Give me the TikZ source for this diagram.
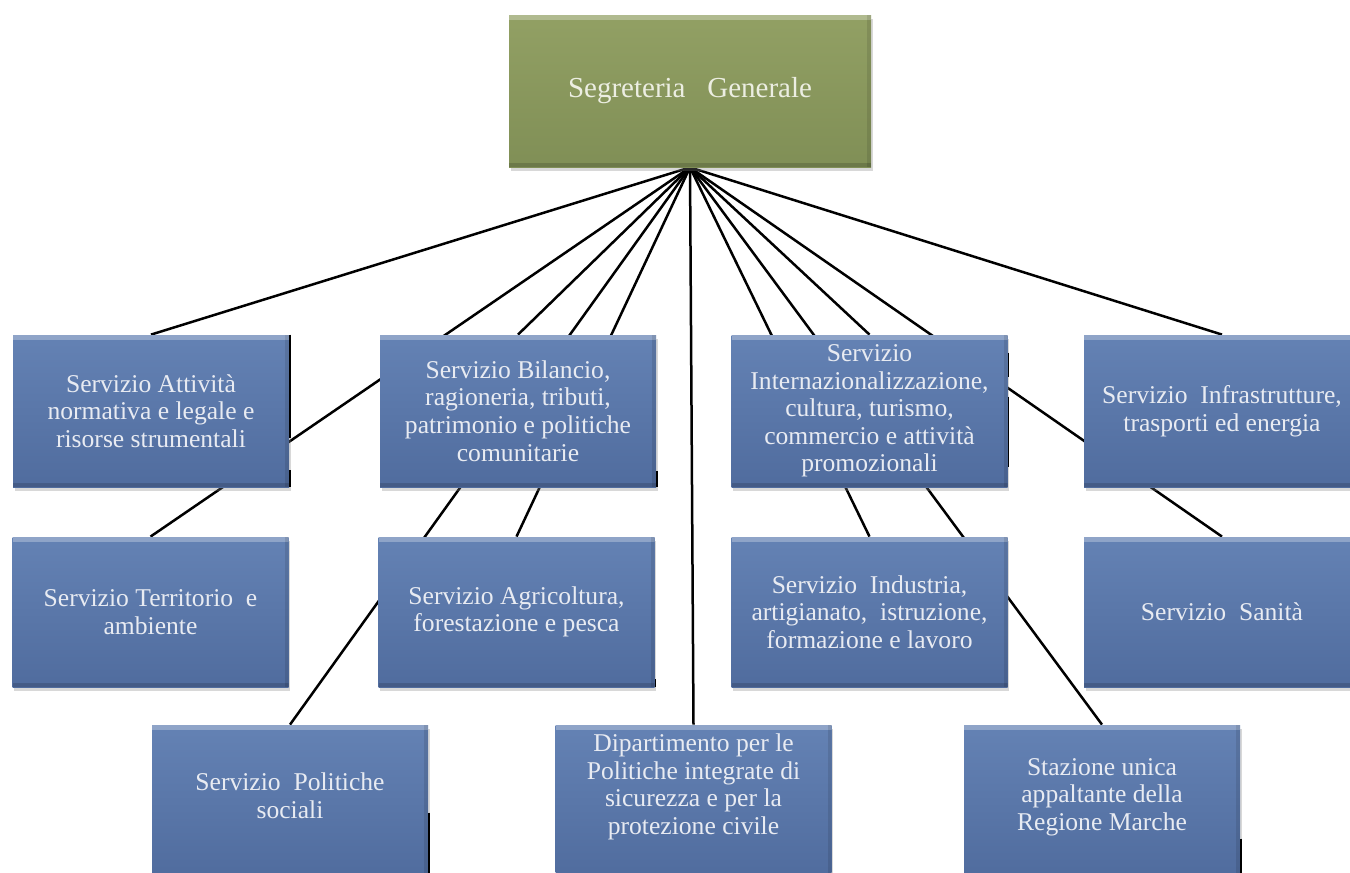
\documentclass[tikz,border=0pt]{standalone}
\usepackage{fontspec}
\setmainfont{Liberation Serif}
\usetikzlibrary{shadows,backgrounds}

\definecolor{bluetop}{RGB}{100,130,180}
\definecolor{bluebot}{RGB}{80,108,158}
\definecolor{olivetop}{RGB}{146,160,100}
\definecolor{olivebot}{RGB}{128,143,86}
\definecolor{labeltext}{RGB}{232,235,242}

\tikzset{
  bevel/.style={path picture={
      \fill[white,opacity=0.28] (path picture bounding box.north west)
        rectangle ([yshift=-2.5pt]path picture bounding box.north east);
      \fill[black,opacity=0.15] ([yshift=2pt]path picture bounding box.south west)
        rectangle (path picture bounding box.south east);
      \fill[black,opacity=0.10] ([xshift=-2pt]path picture bounding box.north east)
        rectangle (path picture bounding box.south east);
  }},
  unitbox/.style={rectangle, draw=none, inner sep=0pt, align=center,
      top color=bluetop, bottom color=bluebot, text=labeltext,
      font=\fontsize{12.8}{13.8}\selectfont,
      minimum width=138pt, minimum height=76pt, bevel,
      drop shadow={opacity=0.3, shadow xshift=0.8pt, shadow yshift=-2.2pt}},
  headbox/.style={unitbox, top color=olivetop, bottom color=olivebot,
      text={rgb,255:red,236;green,238;blue,226},
      font=\fontsize{14.5}{16}\selectfont, minimum width=181pt},
  conn/.style={draw=black, line width=1.25pt},
  edgemark/.style={draw=black, line width=0.9pt}
}

\begin{document}
\begin{tikzpicture}[x=0.5pt,y=-0.5pt]
  \useasboundingbox (0,0) rectangle (1350,873);
  \clip (0,0) rectangle (1350,873);

  % head of the chart
  \node[headbox] (top) at (690,91) {Segreteria\ \ \ Generale};

  % first row
  \node[unitbox] (attiv) at (151,411) {Servizio Attività\\normativa e legale e\\risorse strumentali};
  \node[unitbox] (bilan) at (518,411) {Servizio Bilancio,\\ragioneria, tributi,\\patrimonio e politiche\\comunitarie};
  \node[unitbox] (inter) at (869.5,411) {Servizio\\Internazionalizzazione,\\cultura, turismo,\\commercio e attività\\promozionali};
  \node[unitbox] (infra) at (1222,411) {Servizio\ \ Infrastrutture,\\trasporti ed energia};

  % second row
  \node[unitbox, minimum height=75pt] (terr) at (150.5,612) {Servizio Territorio\ \ e\\ambiente};
  \node[unitbox, minimum height=75pt] (agri) at (516.5,612) {Servizio Agricoltura,\\forestazione e pesca};
  \node[unitbox, minimum height=75pt] (indu) at (869.5,612) {Servizio\ \ Industria,\\artigianato,\ \ istruzione,\\formazione e lavoro};
  \node[unitbox, minimum height=75pt] (sani) at (1222,612) {Servizio\ \ Sanità};

  % third row (runs past the lower edge)
  \node[unitbox] (poli) at (290,801) {};
  \node[unitbox] (dipa) at (693.5,801) {};
  \node[unitbox] (staz) at (1102,801) {};
  \node[text=labeltext, font=\fontsize{12.8}{13.8}\selectfont, align=center] (politxt) at (290,796) {Servizio\ \ Politiche\\sociali};
  \node[text=labeltext, font=\fontsize{12.8}{13.8}\selectfont, align=center] (dipatxt) at (693.5,787) {Dipartimento per le\\Politiche integrate di\\sicurezza e per la\\protezione civile};
  \node[text=labeltext, font=\fontsize{12.8}{13.8}\selectfont, align=center] (staztxt) at (1102,797) {Stazione unica\\appaltante della\\Regione Marche};

  % connectors, all leaving the head box and passing behind the boxes
  \begin{pgfonlayer}{background}
    \fill[white] (0,0) rectangle (1350,873);
    \draw[conn] (top.south) -- (attiv.north);
    \draw[conn] (top.south) -- (terr.north);
    \draw[conn] (top.south) -- (bilan.north);
    \draw[conn] (top.south) -- (poli.north);
    \draw[conn] (top.south) -- (agri.north);
    \draw[conn] (top.south) -- (dipa.north);
    \draw[conn] (top.south) -- (indu.north);
    \draw[conn] (top.south) -- (staz.north);
    \draw[conn] (top.south) -- (inter.north);
    \draw[conn] (top.south) -- (sani.north);
    \draw[conn] (top.south) -- (infra.north);
  \end{pgfonlayer}

  % dark marks along some right edges
  \draw[edgemark] ([xshift=0.3pt]attiv.north east) -- ++(0,103);
  \draw[edgemark] ([xshift=0.3pt]attiv.south east) -- ++(0,-17);
  \draw[edgemark] ([xshift=0.3pt]bilan.south east) -- ++(0,-16);
  \draw[edgemark] ([xshift=0.3pt,yshift=-9pt]inter.north east) -- ++(0,24);
  \draw[edgemark] ([xshift=0.3pt,yshift=-31pt]inter.north east) -- ++(0,70);
  \draw[edgemark] ([xshift=0.3pt]agri.south east) -- ++(0,-8);
  \draw[edgemark] ([xshift=0.3pt,yshift=-44pt]poli.north east) -- ++(0,70);
  \draw[edgemark] ([xshift=0.3pt,yshift=-57pt]staz.north east) -- ++(0,50);
\end{tikzpicture}
\end{document}
